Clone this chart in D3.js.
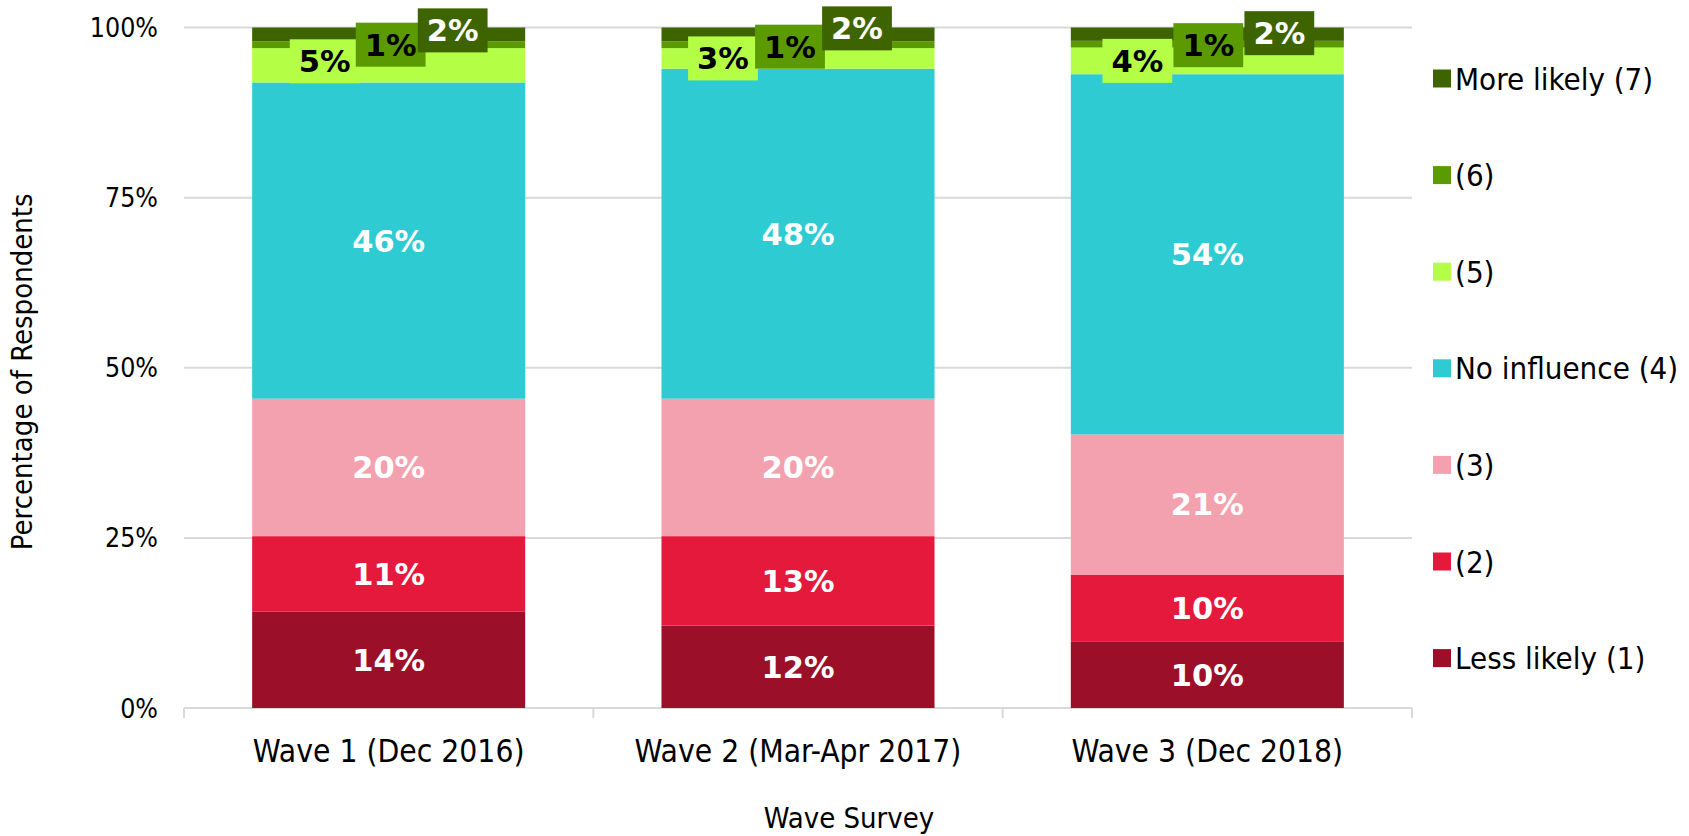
<!DOCTYPE html>
<html>
<head>
<meta charset="utf-8">
<style>
  body { margin: 0; background: #fff; }
  svg { display: block; background: #fff; }
  text { font-family: "DejaVu Sans Condensed", "DejaVu Sans", sans-serif; fill: #000; }
  .val { font-family: "DejaVu Sans", sans-serif; font-weight: bold; font-size: 30.5px; }
  .grid line { stroke: #d9d9d9; stroke-width: 2; }
</style>
</head>
<body>
<script src="https://cdn.jsdelivr.net/npm/d3@7"></script>
<script>

// data (percent of respondents per wave)
var waves = ["Wave 1 (Dec 2016)", "Wave 2 (Mar-Apr 2017)", "Wave 3 (Dec 2018)"];
var series = ["Less likely (1)", "(2)", "(3)", "No influence (4)", "(5)", "(6)", "More likely (7)"];
var lessLikely1 = [14, 12, 10];
var two = [11, 13, 10];
var three = [20, 20, 21];
var noInfluence4 = [46, 48, 54];
var five = [5, 3, 4];
var six = [1, 1, 1];
var moreLikely7 = [2, 2, 2];
var yTicks = [0, 0.25, 0.5, 0.75, 1];
var colors = ["#9b0f29", "#e5193c", "#f3a1ae", "#2ecbd3", "#b4ff46", "#5b9a00", "#3e6400"];

// small labels at the top are pushed sideways by hand in the original, [dx, dy] per wave
var nudges = {
  "(5)": [[-64, -4], [-75, 0], [-70, 0]],
  "(6)": [[2, 0], [-8, 2], [1, 1]],
  "More likely (7)": [[64, -4], [59, -6], [72, -1]]
};
var darkText = { "(5)": true, "(6)": true };

var width = 1689, height = 836;
var plotLeft = 184, plotRight = 1412, plotTop = 27.5, plotBottom = 708;

var cols = [lessLikely1, two, three, noInfluence4, five, six, moreLikely7];
var rows = waves.map(function(w, i) {
  var r = { wave: w };
  series.forEach(function(s, j) { r[s] = cols[j][i]; });
  return r;
});

var svg = d3.select("body").append("svg")
    .attr("width", width)
    .attr("height", height);

var x = d3.scaleBand()
    .domain(waves)
    .range([plotLeft, plotRight])
    .paddingInner(0.333)
    .paddingOuter(0.1665);

var y = d3.scaleLinear()
    .domain([0, 1])
    .range([plotBottom, plotTop]);

var color = d3.scaleOrdinal().domain(series).range(colors);

// gridlines
svg.append("g")
    .attr("class", "grid")
    .selectAll("line")
    .data(yTicks.slice(1))
    .enter()
    .append("line")
    .attr("x1", plotLeft)
    .attr("x2", plotRight)
    .attr("y1", function(d) { return y(d); })
    .attr("y2", function(d) { return y(d); });

// y tick labels
svg.append("g")
    .selectAll("text")
    .data(yTicks)
    .enter()
    .append("text")
    .attr("x", plotLeft - 26)
    .attr("y", function(d) { return y(d); })
    .attr("dy", "0.36em")
    .attr("text-anchor", "end")
    .style("font-size", "26.5px")
    .text(d3.format(".0%"));

// x axis line with boundary ticks
var xAxis = svg.append("g").attr("class", "grid");
xAxis.append("line")
    .attr("x1", plotLeft).attr("x2", plotRight)
    .attr("y1", plotBottom).attr("y2", plotBottom);
var bounds = waves.map(function(w) { return x(w) - x.step() * x.paddingOuter(); });
bounds.push(plotRight);
xAxis.selectAll(".tk")
    .data(bounds)
    .enter()
    .append("line")
    .attr("class", "tk")
    .attr("x1", function(d) { return d; })
    .attr("x2", function(d) { return d; })
    .attr("y1", plotBottom)
    .attr("y2", plotBottom + 10);

svg.append("g")
    .selectAll("text")
    .data(waves)
    .enter()
    .append("text")
    .attr("x", function(d) { return x(d) + x.bandwidth() / 2; })
    .attr("y", 762)
    .attr("text-anchor", "middle")
    .style("font-size", "31.5px")
    .text(function(d) { return d; });

// stacked bars, normalised to 100%
var stack = d3.stack().keys(series).offset(d3.stackOffsetExpand);
var layers = stack(rows);

var layer = svg.append("g")
    .selectAll("g")
    .data(layers)
    .enter()
    .append("g")
    .attr("fill", function(d) { return color(d.key); });

layer.selectAll("rect")
    .data(function(d) { return d; })
    .enter()
    .append("rect")
    .attr("x", function(d) { return x(d.data.wave); })
    .attr("width", x.bandwidth())
    .attr("y", function(d) { return y(d[1]); })
    .attr("height", function(d) { return y(d[0]) - y(d[1]); });

// value labels
var labels = svg.append("g");
layers.forEach(function(l) {
  l.forEach(function(d, i) {
    var cx = x(d.data.wave) + x.bandwidth() / 2;
    var cy = (y(d[0]) + y(d[1])) / 2;
    var txt = d.data[l.key] + "%";
    var nd = nudges[l.key];
    if (nd) {
      cx += nd[i][0];
      cy += nd[i][1];
      var g = labels.append("g");
      var box = g.append("rect").attr("fill", color(l.key));
      var t = g.append("text")
          .attr("class", "val")
          .attr("x", cx)
          .attr("y", cy)
          .attr("dy", "0.36em")
          .attr("text-anchor", "middle")
          .style("fill", darkText[l.key] ? "#000" : "#fff")
          .text(txt);
      var w = t.node().getComputedTextLength() + 18;
      box.attr("x", cx - w / 2).attr("y", cy - 22)
         .attr("width", w).attr("height", 44);
    } else {
      labels.append("text")
          .attr("class", "val")
          .attr("x", cx)
          .attr("y", cy)
          .attr("dy", "0.36em")
          .attr("text-anchor", "middle")
          .style("fill", "#fff")
          .text(txt);
    }
  });
});

// axis titles
svg.append("text")
    .attr("transform", "translate(32," + ((plotTop + plotBottom) / 2 + 4) + ") rotate(-90)")
    .attr("text-anchor", "middle")
    .style("font-size", "29px")
    .text("Percentage of Respondents");

svg.append("text")
    .attr("x", 849)
    .attr("y", 828)
    .attr("text-anchor", "middle")
    .style("font-size", "29px")
    .text("Wave Survey");

// legend, top to bottom from (7) to (1)
var legend = svg.append("g")
    .selectAll("g")
    .data(series.slice().reverse())
    .enter()
    .append("g")
    .attr("transform", function(d, i) { return "translate(1433," + (78.5 + i * 96.6) + ")"; });

legend.append("rect")
    .attr("x", 0)
    .attr("y", -9)
    .attr("width", 18)
    .attr("height", 18)
    .attr("fill", function(d) { return color(d); });

legend.append("text")
    .attr("x", 22)
    .attr("y", 0)
    .attr("dy", "0.36em")
    .style("font-size", "31px")
    .text(function(d) { return d; });

</script>
</body>
</html>
